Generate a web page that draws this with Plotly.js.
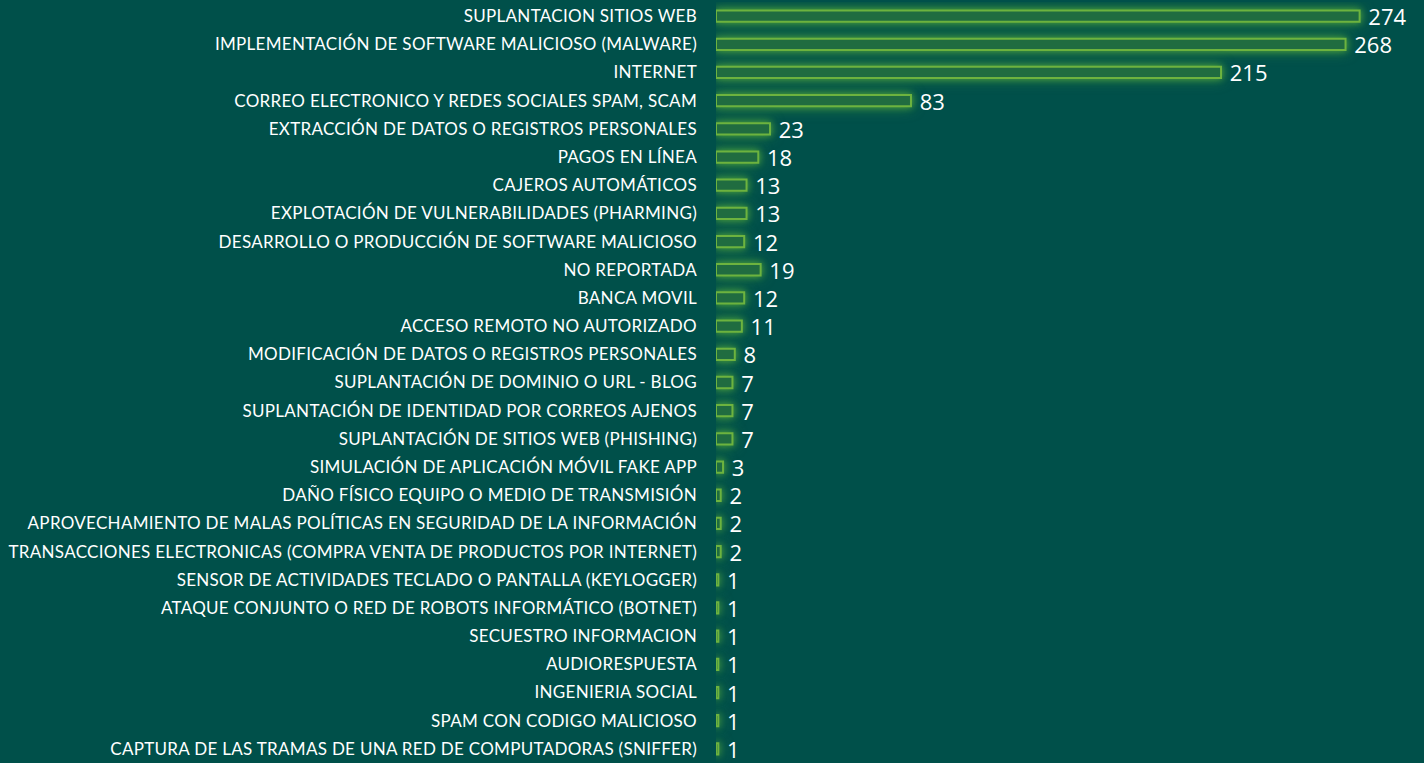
<!DOCTYPE html>
<html>
<head>
<meta charset="utf-8">
<script src="https://cdn.plot.ly/plotly-3.0.1.min.js"></script>
<style>html,body{margin:0;padding:0;background:#00504a;}#chart{width:1424px;height:763px;}
#chart .ytick text{letter-spacing:0.3px;}
#chart .trace.bars .point path{filter:drop-shadow(0 0 3px rgba(90,170,60,0.7)) drop-shadow(0 0 6px rgba(60,150,60,0.8));}</style>
</head>
<body>
<div id="chart"></div>
<script>
const categories = [
  "SUPLANTACION SITIOS WEB",
  "IMPLEMENTACIÓN DE SOFTWARE MALICIOSO (MALWARE)",
  "INTERNET",
  "CORREO ELECTRONICO Y REDES SOCIALES SPAM, SCAM",
  "EXTRACCIÓN DE DATOS O REGISTROS PERSONALES",
  "PAGOS EN LÍNEA",
  "CAJEROS AUTOMÁTICOS",
  "EXPLOTACIÓN DE VULNERABILIDADES (PHARMING)",
  "DESARROLLO O PRODUCCIÓN DE SOFTWARE MALICIOSO",
  "NO REPORTADA",
  "BANCA MOVIL",
  "ACCESO REMOTO NO AUTORIZADO",
  "MODIFICACIÓN DE DATOS O REGISTROS PERSONALES",
  "SUPLANTACIÓN DE DOMINIO O URL - BLOG",
  "SUPLANTACIÓN DE IDENTIDAD POR CORREOS AJENOS",
  "SUPLANTACIÓN DE SITIOS WEB (PHISHING)",
  "SIMULACIÓN DE APLICACIÓN MÓVIL FAKE APP",
  "DAÑO FÍSICO EQUIPO O MEDIO DE TRANSMISIÓN",
  "APROVECHAMIENTO DE MALAS POLÍTICAS EN SEGURIDAD DE LA INFORMACIÓN",
  "TRANSACCIONES ELECTRONICAS (COMPRA VENTA DE PRODUCTOS POR INTERNET)",
  "SENSOR DE ACTIVIDADES TECLADO O PANTALLA (KEYLOGGER)",
  "ATAQUE CONJUNTO O RED DE ROBOTS INFORMÁTICO (BOTNET)",
  "SECUESTRO INFORMACION",
  "AUDIORESPUESTA",
  "INGENIERIA SOCIAL",
  "SPAM CON CODIGO MALICIOSO",
  "CAPTURA DE LAS TRAMAS DE UNA RED DE COMPUTADORAS (SNIFFER)"
];
const values = [274, 268, 215, 83, 23, 18, 13, 13, 12, 19, 12, 11, 8, 7, 7, 7, 3, 2, 2, 2, 1, 1, 1, 1, 1, 1, 1];

const main = {
  type: 'bar', orientation: 'h', x: values, y: categories,
  marker: {color: '#206c40', line: {color: '#6db33f', width: 2}},
  text: values.map(String), texttemplate: '\u00a0%{text}',
  textposition: 'outside', cliponaxis: false, constraintext: 'none',
  textfont: {family: 'Open Sans, sans-serif', size: 22, color: '#ffffff'},
  showlegend: false
};

const layout = {
  width: 1424, height: 763,
  paper_bgcolor: '#00504a', plot_bgcolor: '#00504a',
  margin: {l: 716, r: 8, t: 2, b: 0},
  bargap: 0.6,
  xaxis: {range: [0, 298], visible: false, showgrid: false, zeroline: false},
  yaxis: {autorange: 'reversed', showgrid: false, zeroline: false, showline: false, ticks: '',
          ticklabelstandoff: 18,
          tickfont: {family: 'Lato, sans-serif', size: 17, color: '#ffffff'}},
  showlegend: false
};
Plotly.newPlot('chart', [main], layout, {displayModeBar: false, staticPlot: true});
</script>
</body>
</html>
